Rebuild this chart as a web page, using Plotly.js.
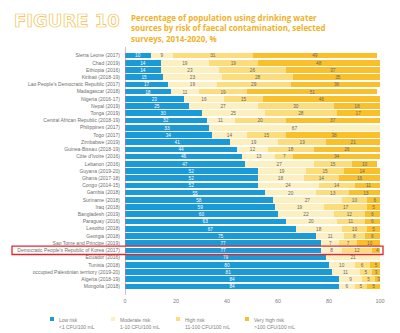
<!DOCTYPE html>
<html>
<head>
<meta charset="utf-8">
<script src="https://cdn.plot.ly/plotly-3.0.1.min.js"></script>
<style>html,body{margin:0;padding:0;background:#fff;}#chart{width:400px;height:333px;}</style>
</head>
<body>
<div id="chart"></div>
<script>
const categories = [
  "Sierra Leone (2017)", "Chad (2019)", "Ethiopia (2016)", "Kiribati (2018-19)",
  "Lao People's Democratic Republic (2017)", "Madagascar (2018)", "Nigeria (2016-17)",
  "Nepal (2019)", "Tonga (2019)", "Central African Republic (2018-19)", "Philippines (2017)",
  "Togo (2017)", "Zimbabwe (2019)", "Guinea-Bissau (2018-19)", "Côte d'Ivoire (2016)",
  "Lebanon (2016)", "Guyana (2019-20)", "Ghana (2017-18)", "Congo (2014-15)", "Gambia (2018)",
  "Suriname (2018)", "Iraq (2018)", "Bangladesh (2019)", "Paraguay (2016)", "Lesotho (2018)",
  "Georgia (2018)", "Sao Tome and Principe (2019)", "Democratic People's Republic of Korea (2017)",
  "Ecuador (2016)", "Tunisia (2018)", "occupied Palestinian territory (2019-20)",
  "Algeria (2018-19)", "Mongolia (2018)"
];
const lowRisk      = [10,14,14,15,17,18,23,25,30,32,33,34,41,44,46,47,52,52,52,55,58,59,60,63,67,75,77,77,79,80,81,84,84];
const moderateRisk = [ 9,19,23,23,19,11,16,27,25,11,67,14,19,12,13,27,19,18,24,20,27,19,22,20,18,11, 7, 8,21,10,11, 9, 6];
const highRisk     = [31,19,26,28,29,19,15,30,28,20, 0,15,19,18, 7,15,15,14,14,13,10,17,12,11,10, 8, 7,12, 0, 6, 5, 5, 5];
const veryHighRisk = [49,48,37,35,36,51,46,18,17,37, 0,38,21,26,34,10,14,16,11,13, 6, 5, 6, 6, 5, 6,10, 4, 0, 5, 3, 3, 5];
const seriesNames  = ["Low risk", "Moderate risk", "High risk", "Very high risk"];
const seriesSub    = ["<1 CFU/100 mL", "1-10 CFU/100 mL", "11-100 CFU/100 mL", ">100 CFU/100 mL"];
const xTicks       = [0, 20, 40, 60, 80, 100];
const highlighted  = "Democratic People's Republic of Korea (2017)";

const colors = ["#1a9ad6", "#fdf0c0", "#fddc7c", "#f9c02c"];
const textColors = ["#ffffff", "#666666", "#666666", "#666666"];
const seriesValues = [lowRisk, moderateRisk, highRisk, veryHighRisk];

const traces = seriesValues.map((vals, i) => ({
  type: "bar", orientation: "h",
  x: vals, y: categories, name: seriesNames[i],
  marker: {color: colors[i], line: {width: 0}},
  text: vals.map(v => v > 0 ? String(v) : ""),
  textposition: "inside", insidetextanchor: "middle", textangle: 0,
  textfont: {size: 5, color: textColors[i], family: "Liberation Sans, Arial, sans-serif"},
  hoverinfo: "skip", showlegend: false
}));

// pixel -> paper helpers (plot area: x 125..380, y 52..290)
const L = 125, R = 380, T = 52, B = 290;
const px = x => (x - L) / (R - L);
const py = y => (B - y) / (B - T);

const shapes = [
  {type: "line", xref: "x", yref: "paper", x0: 0, x1: 0, y0: py(295), y1: py(47),
   line: {color: "#e06a9c", width: 1}},
];
const hi = categories.indexOf(highlighted);
shapes.push({type: "rect", xref: "paper", yref: "y", x0: px(12), x1: px(383), y0: hi - 0.58, y1: hi + 0.58,
  line: {color: "#e0262e", width: 1.3}, fillcolor: "rgba(0,0,0,0)"});

const annotations = [
  {xref: "paper", yref: "paper", x: px(12), y: py(20), xanchor: "left", yanchor: "middle",
   text: "FIGURE 10", showarrow: false, name: "figlabel",
   font: {family: "DejaVu Sans, sans-serif", size: 18, weight: 700, color: "#ffffff"}},
  {xref: "paper", yref: "paper", x: px(129), y: py(10), xanchor: "left", yanchor: "top", align: "left",
   text: "Percentage of population using drinking water<br>sources by risk of faecal contamination, selected<br>surveys, 2014-2020, %",
   showarrow: false,
   font: {family: "Open Sans, Liberation Sans, sans-serif", size: 8, weight: 700, color: "#f2b128"}}
];
const legX = [50, 111, 176, 245];
legX.forEach((lx, i) => {
  shapes.push({type: "rect", xref: "paper", yref: "paper", x0: px(lx), x1: px(lx + 4), y0: py(321), y1: py(317),
    line: {width: 0}, fillcolor: colors[i]});
  annotations.push({xref: "paper", yref: "paper", x: px(lx + 7), y: py(314.5), xanchor: "left", yanchor: "top",
    align: "left", showarrow: false,
    text: seriesNames[i] + "<br>" + seriesSub[i].replace(/</g, "&lt;").replace(/>/g, "&gt;"),
    font: {family: "Liberation Sans, Arial, sans-serif", size: 5, color: "#808080"}});
});

const layout = {
  width: 400, height: 333,
  margin: {l: L, r: 400 - R, t: T, b: 333 - B, pad: 0},
  paper_bgcolor: "#ffffff", plot_bgcolor: "#ffffff",
  barmode: "stack", bargap: 0.22,
  showlegend: false,
  xaxis: {range: [0, 100], tickvals: xTicks, ticktext: xTicks.map(String),
          showgrid: false, zeroline: false, showline: false,
          ticks: "outside", ticklen: 5, tickcolor: "rgba(0,0,0,0)",
          tickfont: {size: 5.5, color: "#808080", family: "Liberation Sans, Arial, sans-serif"}},
  yaxis: {type: "category", categoryorder: "array", categoryarray: categories, autorange: "reversed",
          showgrid: false, zeroline: false, showline: false,
          ticks: "outside", ticklen: 3, tickcolor: "rgba(0,0,0,0)",
          tickfont: {size: 5, color: "#707070", family: "Liberation Sans, Arial, sans-serif"}},
  shapes: shapes, annotations: annotations,
  font: {family: "Liberation Sans, Arial, sans-serif"}
};

function outlineTitle() {
  const t = document.querySelector('.annotation[data-index="0"] text.annotation-text');
  if (t) {
    t.style.stroke = "#f0bf4c";
    t.style.strokeWidth = "0.7px";
    t.style.fill = "#ffffff";
  }
}
Plotly.newPlot("chart", traces, layout, {displayModeBar: false, staticPlot: true}).then(gd => {
  outlineTitle();
  gd.on && gd.on("plotly_afterplot", outlineTitle);
});
</script>
</body>
</html>
